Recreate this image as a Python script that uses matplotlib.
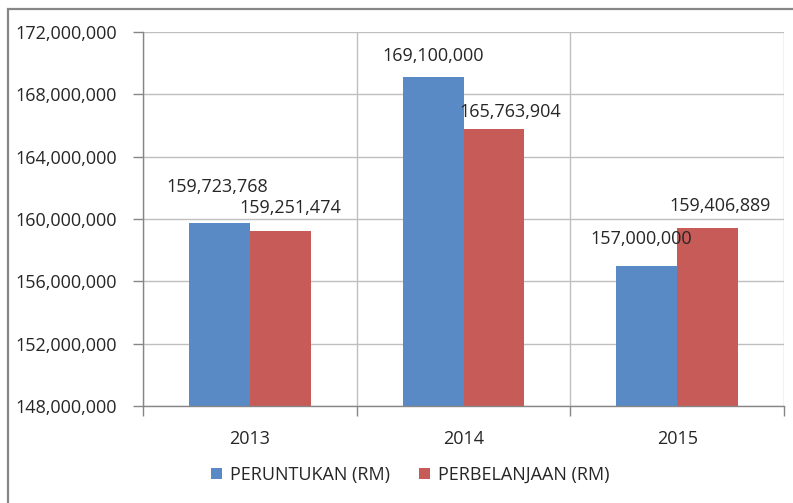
import matplotlib
matplotlib.use("Agg")
import matplotlib.pyplot as plt
from matplotlib.ticker import FuncFormatter, FixedLocator
from matplotlib.patches import Rectangle
import numpy as np

years = ["2013", "2014", "2015"]
peruntukan = [159723768, 169100000, 157000000]
perbelanjaan = [159251474, 165763904, 159406889]
series_names = ["PERUNTUKAN (RM)", "PERBELANJAAN (RM)"]

plt.rcParams['font.family'] = ['Open Sans', 'DejaVu Sans']
TXT = '#262626'
FS = 13

fig = plt.figure(figsize=(7.93, 5.03), dpi=100)
fig.patch.set_facecolor('white')
# outer frame (left & top visible, rest off-canvas)
fig.patches.append(Rectangle((8/793, -0.1), 1.2, 1 - 9/503 + 0.1, transform=fig.transFigure,
                             fill=False, edgecolor='#878787', linewidth=1.6, zorder=0))

ax = fig.add_axes([143/793, 1 - 406/503, (784 - 143)/793, (406 - 32)/503])
x = np.arange(len(years))
w = 0.285
c_blue = '#5A8AC6'
c_red = '#C75B58'
b1 = ax.bar(x - w/2, peruntukan, w, color=c_blue, label=series_names[0], zorder=3)
b2 = ax.bar(x + w/2, perbelanjaan, w, color=c_red, label=series_names[1], zorder=3)

ax.set_ylim(148000000, 172000000)
ax.set_xlim(-0.5, 2.5)
ax.set_yticks(np.arange(148000000, 172000001, 4000000))
ax.yaxis.set_major_formatter(FuncFormatter(lambda v, p: f"{int(v):,}"))
ax.set_xticks(x)
ax.set_xticklabels(years)
ax.xaxis.set_minor_locator(FixedLocator([-0.5, 0.5, 1.5, 2.5]))

grid_c = '#BFBFBF'
ax.grid(axis='y', which='major', color=grid_c, linewidth=1, zorder=0)
ax.grid(axis='x', which='minor', color=grid_c, linewidth=1, zorder=0)
ax.tick_params(axis='x', which='major', length=0, pad=17, labelsize=FS, labelcolor=TXT)
ax.tick_params(axis='x', which='minor', length=7, color='#868686', width=1)
ax.tick_params(axis='y', which='major', length=7, color='#868686', width=1, pad=12,
               labelsize=FS, labelcolor=TXT)
for s in ['top', 'right']:
    ax.spines[s].set_visible(False)
for s in ['left', 'bottom']:
    ax.spines[s].set_color('#868686')
    ax.spines[s].set_linewidth(1)
    ax.spines[s].set_zorder(4)

# data labels (offsets in pixels)
off_blue = [(-2, 36), (0, 21), (-6, 27)]
off_red = [(10, 23), (16, 17), (12, 22)]
for i in range(len(years)):
    ax.annotate(f"{peruntukan[i]:,}", xy=(x[i] - w/2, peruntukan[i]),
                xytext=off_blue[i], textcoords='offset pixels',
                ha='center', va='center', fontsize=FS, color=TXT, zorder=5)
    ax.annotate(f"{perbelanjaan[i]:,}", xy=(x[i] + w/2, perbelanjaan[i]),
                xytext=off_red[i], textcoords='offset pixels',
                ha='center', va='center', fontsize=FS, color=TXT, zorder=5)

fig.legend(handles=[b1, b2], labels=series_names, loc='center',
           bbox_to_anchor=(410/793, 1 - 475/503), ncol=2, frameon=False,
           fontsize=FS, labelcolor=TXT, handlelength=0.6, handleheight=0.6,
           handletextpad=0.45, columnspacing=1.6)

fig.savefig('out.png', dpi=100, facecolor='white')
